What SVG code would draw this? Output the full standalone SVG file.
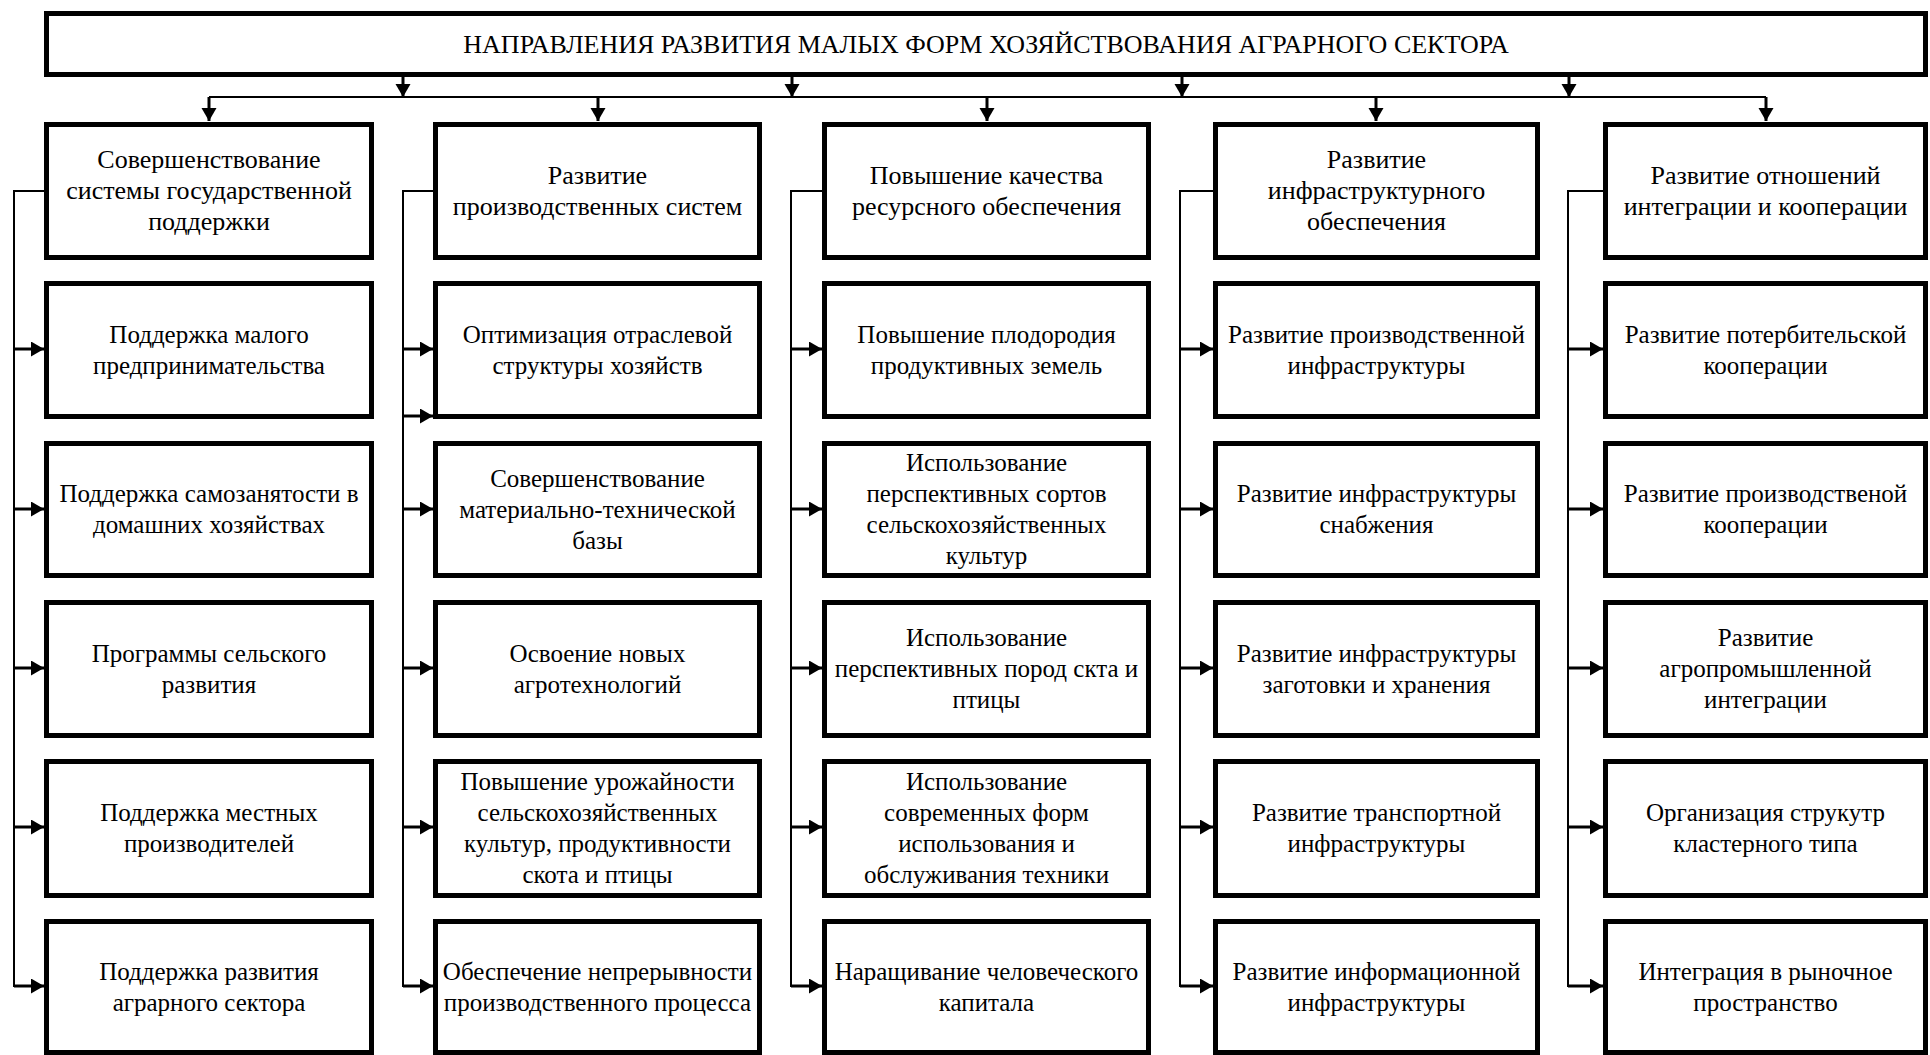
<svg xmlns="http://www.w3.org/2000/svg" width="1930" height="1055" viewBox="0 0 1930 1055">
<style>
.box{fill:#fff;stroke:#000;stroke-width:5}
.t{font-family:"Liberation Serif","Times New Roman",serif;font-size:25px;text-anchor:middle;fill:#000}
.h{font-size:26px}
.ln{stroke:#000;stroke-width:2;fill:none}
.ar{stroke:#000;stroke-width:3;fill:none;marker-end:url(#ah)}
.arv{stroke:#000;stroke-width:3;fill:none;marker-end:url(#ah)}
</style>
<defs>
<marker id="ah" markerUnits="userSpaceOnUse" markerWidth="14" markerHeight="16" refX="13" refY="7.5" orient="auto">
<path d="M0,0 L13,7.5 L0,15 z" fill="#000"/>
</marker>
</defs>
<rect width="1930" height="1055" fill="#fff"/>

<g id="connectors">
  <!-- from title to bus -->
  <line class="arv" x1="403" y1="77" x2="403" y2="97"/>
  <line class="arv" x1="792" y1="77" x2="792" y2="97"/>
  <line class="arv" x1="1182" y1="77" x2="1182" y2="97"/>
  <line class="arv" x1="1569" y1="77" x2="1569" y2="97"/>
  <line class="ln" x1="209" y1="97" x2="1766" y2="97"/>
  <!-- bus to headers -->
  <line class="arv" x1="209" y1="97" x2="209" y2="121"/>
  <line class="arv" x1="598" y1="97" x2="598" y2="121"/>
  <line class="arv" x1="987" y1="97" x2="987" y2="121"/>
  <line class="arv" x1="1376" y1="97" x2="1376" y2="121"/>
  <line class="arv" x1="1766" y1="97" x2="1766" y2="121"/>
  <!-- spines -->
  <polyline class="ln" points="44,191 14,191 14,987"/>
  <polyline class="ln" points="433,191 403,191 403,987"/>
  <polyline class="ln" points="822,191 791,191 791,987"/>
  <polyline class="ln" points="1213,191 1180,191 1180,987"/>
  <polyline class="ln" points="1603,191 1568,191 1568,987"/>
  <!-- col1 arrows -->
  <line class="ar" x1="14" y1="349" x2="44" y2="349"/>
  <line class="ar" x1="14" y1="509" x2="44" y2="509"/>
  <line class="ar" x1="14" y1="668" x2="44" y2="668"/>
  <line class="ar" x1="14" y1="827" x2="44" y2="827"/>
  <line class="ar" x1="14" y1="986" x2="44" y2="986"/>
  <!-- col2 arrows -->
  <line class="ar" x1="403" y1="349" x2="433" y2="349"/>
  <line class="ar" x1="403" y1="416" x2="433" y2="416"/>
  <line class="ar" x1="403" y1="509" x2="433" y2="509"/>
  <line class="ar" x1="403" y1="668" x2="433" y2="668"/>
  <line class="ar" x1="403" y1="827" x2="433" y2="827"/>
  <line class="ar" x1="403" y1="986" x2="433" y2="986"/>
  <!-- col3 arrows -->
  <line class="ar" x1="791" y1="349" x2="822" y2="349"/>
  <line class="ar" x1="791" y1="509" x2="822" y2="509"/>
  <line class="ar" x1="791" y1="668" x2="822" y2="668"/>
  <line class="ar" x1="791" y1="827" x2="822" y2="827"/>
  <line class="ar" x1="791" y1="986" x2="822" y2="986"/>
  <!-- col4 arrows -->
  <line class="ar" x1="1180" y1="349" x2="1213" y2="349"/>
  <line class="ar" x1="1180" y1="509" x2="1213" y2="509"/>
  <line class="ar" x1="1180" y1="668" x2="1213" y2="668"/>
  <line class="ar" x1="1180" y1="827" x2="1213" y2="827"/>
  <line class="ar" x1="1180" y1="986" x2="1213" y2="986"/>
  <!-- col5 arrows -->
  <line class="ar" x1="1568" y1="349" x2="1603" y2="349"/>
  <line class="ar" x1="1568" y1="509" x2="1603" y2="509"/>
  <line class="ar" x1="1568" y1="668" x2="1603" y2="668"/>
  <line class="ar" x1="1568" y1="827" x2="1603" y2="827"/>
  <line class="ar" x1="1568" y1="986" x2="1603" y2="986"/>
</g>

<g id="title">
  <rect class="box" x="46.5" y="13.5" width="1879" height="61"/>
  <text class="t h" x="986" y="53">НАПРАВЛЕНИЯ РАЗВИТИЯ МАЛЫХ ФОРМ ХОЗЯЙСТВОВАНИЯ АГРАРНОГО СЕКТОРА</text>
</g>

<!-- Column 1 -->
<g id="c1h">
  <rect class="box" x="46.5" y="124.5" width="325" height="133"/>
  <text class="t h"><tspan x="209" y="168">Совершенствование</tspan><tspan x="209" y="199">системы государственной</tspan><tspan x="209" y="230">поддержки</tspan></text>
</g>
<g id="c1r1">
  <rect class="box" x="46.5" y="283.5" width="325" height="133"/>
  <text class="t"><tspan x="209" y="343">Поддержка малого</tspan><tspan x="209" y="374">предпринимательства</tspan></text>
</g>
<g id="c1r2">
  <rect class="box" x="46.5" y="443.5" width="325" height="132"/>
  <text class="t"><tspan x="209" y="502">Поддержка самозанятости в</tspan><tspan x="209" y="533">домашних хозяйствах</tspan></text>
</g>
<g id="c1r3">
  <rect class="box" x="46.5" y="602.5" width="325" height="133"/>
  <text class="t"><tspan x="209" y="662">Программы сельского</tspan><tspan x="209" y="693">развития</tspan></text>
</g>
<g id="c1r4">
  <rect class="box" x="46.5" y="761.5" width="325" height="134"/>
  <text class="t"><tspan x="209" y="821">Поддержка местных</tspan><tspan x="209" y="852">производителей</tspan></text>
</g>
<g id="c1r5">
  <rect class="box" x="46.5" y="921.5" width="325" height="131"/>
  <text class="t"><tspan x="209" y="980">Поддержка развития</tspan><tspan x="209" y="1011">аграрного сектора</tspan></text>
</g>

<!-- Column 2 -->
<g id="c2h">
  <rect class="box" x="435.5" y="124.5" width="324" height="133"/>
  <text class="t h"><tspan x="597.5" y="184">Развитие</tspan><tspan x="597.5" y="215">производственных систем</tspan></text>
</g>
<g id="c2r1">
  <rect class="box" x="435.5" y="283.5" width="324" height="133"/>
  <text class="t"><tspan x="597.5" y="343">Оптимизация отраслевой</tspan><tspan x="597.5" y="374">структуры хозяйств</tspan></text>
</g>
<g id="c2r2">
  <rect class="box" x="435.5" y="443.5" width="324" height="132"/>
  <text class="t"><tspan x="597.5" y="487">Совершенствование</tspan><tspan x="597.5" y="518">материально-технической</tspan><tspan x="597.5" y="549">базы</tspan></text>
</g>
<g id="c2r3">
  <rect class="box" x="435.5" y="602.5" width="324" height="133"/>
  <text class="t"><tspan x="597.5" y="662">Освоение новых</tspan><tspan x="597.5" y="693">агротехнологий</tspan></text>
</g>
<g id="c2r4">
  <rect class="box" x="435.5" y="761.5" width="324" height="134"/>
  <text class="t"><tspan x="597.5" y="790">Повышение урожайности</tspan><tspan x="597.5" y="821">сельскохозяйственных</tspan><tspan x="597.5" y="852">культур, продуктивности</tspan><tspan x="597.5" y="883">скота и птицы</tspan></text>
</g>
<g id="c2r5">
  <rect class="box" x="435.5" y="921.5" width="324" height="131"/>
  <text class="t"><tspan x="597.5" y="980">Обеспечение непрерывности</tspan><tspan x="597.5" y="1011">производственного процесса</tspan></text>
</g>

<!-- Column 3 -->
<g id="c3h">
  <rect class="box" x="824.5" y="124.5" width="324" height="133"/>
  <text class="t h"><tspan x="986.5" y="184">Повышение качества</tspan><tspan x="986.5" y="215">ресурсного обеспечения</tspan></text>
</g>
<g id="c3r1">
  <rect class="box" x="824.5" y="283.5" width="324" height="133"/>
  <text class="t"><tspan x="986.5" y="343">Повышение плодородия</tspan><tspan x="986.5" y="374">продуктивных земель</tspan></text>
</g>
<g id="c3r2">
  <rect class="box" x="824.5" y="443.5" width="324" height="132"/>
  <text class="t"><tspan x="986.5" y="471">Использование</tspan><tspan x="986.5" y="502">перспективных сортов</tspan><tspan x="986.5" y="533">сельскохозяйственных</tspan><tspan x="986.5" y="564">культур</tspan></text>
</g>
<g id="c3r3">
  <rect class="box" x="824.5" y="602.5" width="324" height="133"/>
  <text class="t"><tspan x="986.5" y="646">Использование</tspan><tspan x="986.5" y="677">перспективных пород скта и</tspan><tspan x="986.5" y="708">птицы</tspan></text>
</g>
<g id="c3r4">
  <rect class="box" x="824.5" y="761.5" width="324" height="134"/>
  <text class="t"><tspan x="986.5" y="790">Использование</tspan><tspan x="986.5" y="821">современных форм</tspan><tspan x="986.5" y="852">использования и</tspan><tspan x="986.5" y="883">обслуживания техники</tspan></text>
</g>
<g id="c3r5">
  <rect class="box" x="824.5" y="921.5" width="324" height="131"/>
  <text class="t"><tspan x="986.5" y="980">Наращивание человеческого</tspan><tspan x="986.5" y="1011">капитала</tspan></text>
</g>

<!-- Column 4 -->
<g id="c4h">
  <rect class="box" x="1215.5" y="124.5" width="322" height="133"/>
  <text class="t h"><tspan x="1376.5" y="168">Развитие</tspan><tspan x="1376.5" y="199">инфраструктурного</tspan><tspan x="1376.5" y="230">обеспечения</tspan></text>
</g>
<g id="c4r1">
  <rect class="box" x="1215.5" y="283.5" width="322" height="133"/>
  <text class="t"><tspan x="1376.5" y="343">Развитие производственной</tspan><tspan x="1376.5" y="374">инфраструктуры</tspan></text>
</g>
<g id="c4r2">
  <rect class="box" x="1215.5" y="443.5" width="322" height="132"/>
  <text class="t"><tspan x="1376.5" y="502">Развитие инфраструктуры</tspan><tspan x="1376.5" y="533">снабжения</tspan></text>
</g>
<g id="c4r3">
  <rect class="box" x="1215.5" y="602.5" width="322" height="133"/>
  <text class="t"><tspan x="1376.5" y="662">Развитие инфраструктуры</tspan><tspan x="1376.5" y="693">заготовки и хранения</tspan></text>
</g>
<g id="c4r4">
  <rect class="box" x="1215.5" y="761.5" width="322" height="134"/>
  <text class="t"><tspan x="1376.5" y="821">Развитие транспортной</tspan><tspan x="1376.5" y="852">инфраструктуры</tspan></text>
</g>
<g id="c4r5">
  <rect class="box" x="1215.5" y="921.5" width="322" height="131"/>
  <text class="t"><tspan x="1376.5" y="980">Развитие информационной</tspan><tspan x="1376.5" y="1011">инфраструктуры</tspan></text>
</g>

<!-- Column 5 -->
<g id="c5h">
  <rect class="box" x="1605.5" y="124.5" width="320" height="133"/>
  <text class="t h"><tspan x="1765.5" y="184">Развитие отношений</tspan><tspan x="1765.5" y="215">интеграции и кооперации</tspan></text>
</g>
<g id="c5r1">
  <rect class="box" x="1605.5" y="283.5" width="320" height="133"/>
  <text class="t"><tspan x="1765.5" y="343">Развитие потербительской</tspan><tspan x="1765.5" y="374">кооперации</tspan></text>
</g>
<g id="c5r2">
  <rect class="box" x="1605.5" y="443.5" width="320" height="132"/>
  <text class="t"><tspan x="1765.5" y="502">Развитие производственой</tspan><tspan x="1765.5" y="533">кооперации</tspan></text>
</g>
<g id="c5r3">
  <rect class="box" x="1605.5" y="602.5" width="320" height="133"/>
  <text class="t"><tspan x="1765.5" y="646">Развитие</tspan><tspan x="1765.5" y="677">агропромышленной</tspan><tspan x="1765.5" y="708">интеграции</tspan></text>
</g>
<g id="c5r4">
  <rect class="box" x="1605.5" y="761.5" width="320" height="134"/>
  <text class="t"><tspan x="1765.5" y="821">Организация струкутр</tspan><tspan x="1765.5" y="852">кластерного типа</tspan></text>
</g>
<g id="c5r5">
  <rect class="box" x="1605.5" y="921.5" width="320" height="131"/>
  <text class="t"><tspan x="1765.5" y="980">Интеграция в рыночное</tspan><tspan x="1765.5" y="1011">пространство</tspan></text>
</g>
</svg>
